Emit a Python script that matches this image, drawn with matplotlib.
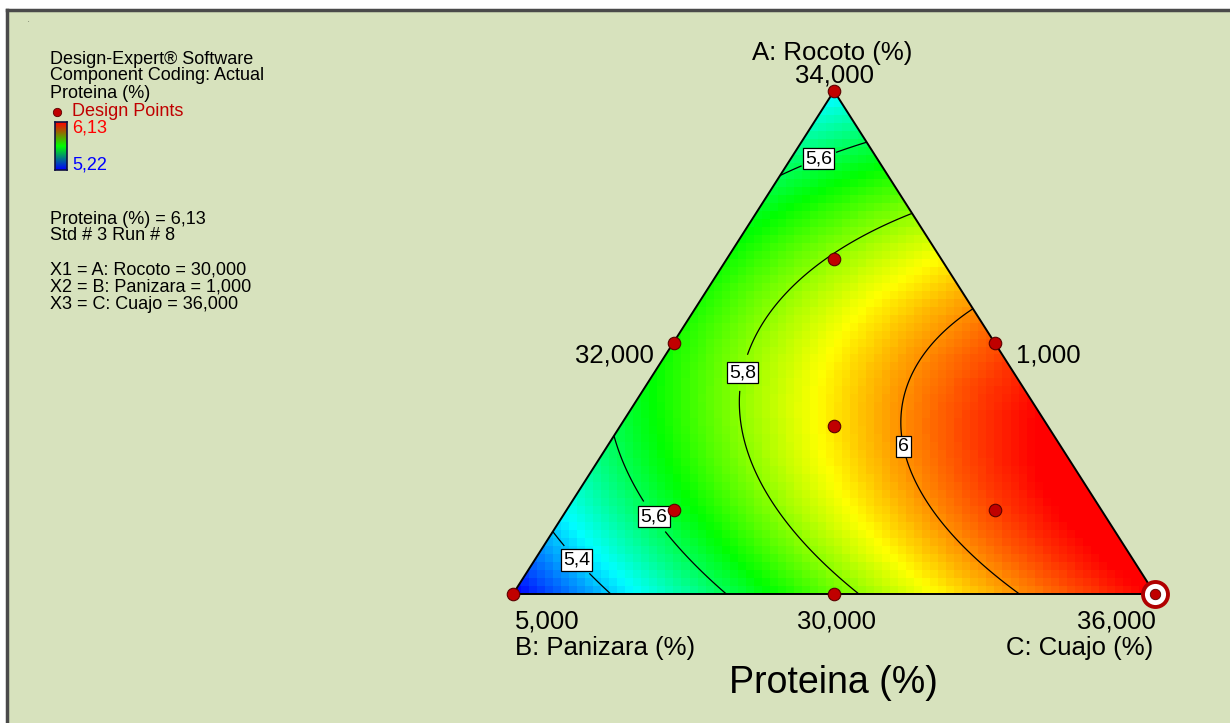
import numpy as np
import matplotlib
matplotlib.use("Agg")
import matplotlib.pyplot as plt
from matplotlib.colors import LinearSegmentedColormap
from matplotlib.patches import Polygon, Rectangle
from matplotlib.lines import Line2D

plt.rcParams["font.family"] = ["Liberation Sans", "DejaVu Sans"]

# ---------------- data (design points, pseudo-component fractions) ----------------
comp_A = [1.0, 0.0, 0.0, 0.5, 0.5, 0.0, 1 / 3, 2 / 3, 1 / 6, 1 / 6]
comp_B = [0.0, 1.0, 0.0, 0.5, 0.0, 0.5, 1 / 3, 1 / 6, 2 / 3, 1 / 6]
comp_C = [0.0, 0.0, 1.0, 0.0, 0.5, 0.5, 1 / 3, 1 / 6, 1 / 6, 2 / 3]
proteina = [5.43, 5.22, 6.13, 5.70, 6.05, 5.77, 5.94, 5.80, 5.61, 6.07]
contour_levels = [5.4, 5.6, 5.8, 6.0]
resp_min, resp_max = 5.22, 6.13
vertex_labels = ["34,000", "5,000", "36,000"]
edge_labels = ["32,000", "1,000", "30,000"]
axis_names = ["A: Rocoto (%)", "B: Panizara (%)", "C: Cuajo (%)"]
title = "Proteina (%)"
info_lines = ["Design-Expert® Software", "Component Coding: Actual", "Proteina (%)"]
point_lines = ["Proteina (%) = 6,13", "Std # 3 Run # 8"]
x_lines = ["X1 = A: Rocoto = 30,000", "X2 = B: Panizara = 1,000", "X3 = C: Cuajo = 36,000"]
selected_point = 2  # index of highlighted run

# ---------------- fit Scheffe special-cubic model ----------------
A = np.array(comp_A); B = np.array(comp_B); C = np.array(comp_C)
y = np.array(proteina)
X = np.column_stack([A, B, C, A * B, A * C, B * C, A * B * C])
coef, *_ = np.linalg.lstsq(X, y, rcond=None)


def model(a, b, c):
    return (coef[0] * a + coef[1] * b + coef[2] * c
            + coef[3] * a * b + coef[4] * a * c + coef[5] * b * c
            + coef[6] * a * b * c)


def to_xy(a, b, c):
    a = np.asarray(a); c = np.asarray(c)
    return 0.5 * a + c, a


# ---------------- figure layout ----------------
W, H = 1230, 723
fig = plt.figure(figsize=(W / 100, H / 100), dpi=100)
fig.patch.set_facecolor("white")
bg = "#D7E2BD"
fig.add_artist(Rectangle((7 / W, 0), 1, 1 - 10 / H, transform=fig.transFigure,
                         facecolor=bg, edgecolor="none", zorder=-10))
fig.add_artist(Line2D([7 / W, 1], [1 - 10 / H, 1 - 10 / H], color="#4a4a4a", lw=2.5,
                      transform=fig.transFigure, zorder=-5))
fig.add_artist(Line2D([7 / W, 7 / W], [0, 1 - 10 / H], color="#4a4a4a", lw=2.5,
                      transform=fig.transFigure, zorder=-5))

# triangle placement in pixels (layout)
TL, TR, TT, TB = 513, 1155, 91, 594
sx = TR - TL
sy = TB - TT
ax = fig.add_axes([0, 0, 1, 1], zorder=1)
ax.set_xlim((0 - TL) / sx, (W - TL) / sx)
ax.set_ylim((TB - H) / sy, (TB - 0) / sy)
ax.axis("off")
ax.patch.set_alpha(0)


def fx(px):
    return px / W


def fy(py):
    return 1 - py / H


cmap = LinearSegmentedColormap.from_list(
    "de", ["#0000FF", "#00FFFF", "#00FF00", "#FFFF00", "#FF0000"])

tri = Polygon([[0, 0], [1, 0], [0.5, 1]], closed=True, facecolor="none",
              edgecolor="black", lw=1.4, zorder=5)
ax.add_patch(tri)

# coarse colour field (pixelated like the original)
nx, ny = 80, 63
gx = (np.arange(nx) + 0.5) / nx
gy = (np.arange(ny) + 0.5) / ny
GX, GY = np.meshgrid(gx, gy)
Ga = GY
Gc = GX - 0.5 * GY
Gb = 1 - Ga - Gc
Z = model(Ga, Gb, Gc)
im = ax.imshow(Z, extent=[0, 1, 0, 1], origin="lower", cmap=cmap,
               vmin=resp_min, vmax=resp_max, interpolation="nearest",
               aspect="auto", zorder=1)
im.set_clip_path(tri)

# smooth contours
fxg = np.linspace(-0.02, 1.02, 400)
fyg = np.linspace(-0.02, 1.02, 400)
FX, FY = np.meshgrid(fxg, fyg)
Fa = FY
Fc = FX - 0.5 * FY
Fb = 1 - Fa - Fc
FZ = model(Fa, Fb, Fc)
cs = ax.contour(FX, FY, FZ, levels=contour_levels, colors="black",
                linewidths=0.9, zorder=3)
cs.set_clip_path(tri)


def fmt(v):
    if abs(v - round(v)) < 1e-9:
        return "%d" % round(v)
    return ("%.1f" % v).replace(".", ",")


label_px = [(818, 157), (735, 371), (900, 447), (658, 514), (583, 554)]
manual = [((px - TL) / sx, (TB - py) / sy) for px, py in label_px]
labels = ax.clabel(cs, fmt=fmt, manual=manual, inline=True, fontsize=14)
for t in labels:
    t.set_bbox(dict(facecolor="white", edgecolor="black", pad=1.6, lw=0.9))
    t.set_rotation(0)
    t.set_zorder(6)

# design points
px_, py_ = to_xy(A, B, C)
ax.plot(px_, py_, "o", ms=9, mfc="#C00000", mec="#5a0000", mew=0.8,
        zorder=7, clip_on=False)
ax.plot(px_[selected_point], py_[selected_point], "o", ms=18, mfc="white",
        mec="#B00000", mew=2.8, zorder=8, clip_on=False)
ax.plot(px_[selected_point], py_[selected_point], "o", ms=7.5, mfc="#C00000",
        mec="#5a0000", mew=0.6, zorder=9, clip_on=False)

# axis / vertex labels
lab_fs = 18.5
fig.text(fx(832), fy(53), axis_names[0], ha="center", va="center", fontsize=lab_fs)
fig.text(fx(835), fy(75), vertex_labels[0], ha="center", va="center", fontsize=lab_fs)
fig.text(fx(614), fy(355), edge_labels[0], ha="center", va="center", fontsize=lab_fs)
fig.text(fx(1048), fy(355), edge_labels[1], ha="center", va="center", fontsize=lab_fs)
fig.text(fx(547), fy(622), vertex_labels[1], ha="center", va="center", fontsize=lab_fs)
fig.text(fx(836), fy(622), edge_labels[2], ha="center", va="center", fontsize=lab_fs)
fig.text(fx(1116), fy(622), vertex_labels[2], ha="center", va="center", fontsize=lab_fs)
fig.text(fx(605), fy(648), axis_names[1], ha="center", va="center", fontsize=lab_fs)
fig.text(fx(1080), fy(648), axis_names[2], ha="center", va="center", fontsize=lab_fs)
fig.text(fx(833), fy(683), title, ha="center", va="center", fontsize=27)

# left info panel
info_fs = 13
for i, s in enumerate(info_lines):
    fig.text(fx(50), fy([59, 75, 93][i]), s, ha="left", va="center", fontsize=info_fs)
fig.text(fx(72), fy(112), "Design Points", ha="left", va="center",
         fontsize=info_fs, color="#C00000")
fig.add_artist(Line2D([fx(57)], [fy(112)], marker="o", ms=6, mfc="#C00000",
                      mec="#5a0000", mew=0.6, transform=fig.transFigure))
fig.text(fx(72), fy(128), ("%.2f" % resp_max).replace(".", ","), ha="left",
         va="center", fontsize=info_fs, color="#FF0000")
fig.text(fx(72), fy(165), ("%.2f" % resp_min).replace(".", ","), ha="left",
         va="center", fontsize=info_fs, color="#0000FF")
cax = fig.add_axes([fx(55), fy(170), (67 - 55) / W, (170 - 122) / H], zorder=2)
leg_cmap = LinearSegmentedColormap.from_list("leg", ["#0000FF", "#00FF00", "#FF0000"])
cax.imshow(np.linspace(0, 1, 64)[:, None], origin="lower", aspect="auto", cmap=leg_cmap)
cax.set_xticks([]); cax.set_yticks([])
for sp in cax.spines.values():
    sp.set_color("#101040"); sp.set_linewidth(1.2)
for i, s in enumerate(point_lines):
    fig.text(fx(50), fy([219, 236][i]), s, ha="left", va="center", fontsize=info_fs)
for i, s in enumerate(x_lines):
    fig.text(fx(50), fy([270, 287, 304][i]), s, ha="left", va="center", fontsize=info_fs)
fig.text(fx(27), fy(21), ".", ha="left", va="center", fontsize=4)

fig.savefig("out.png", dpi=100, facecolor=fig.get_facecolor())
